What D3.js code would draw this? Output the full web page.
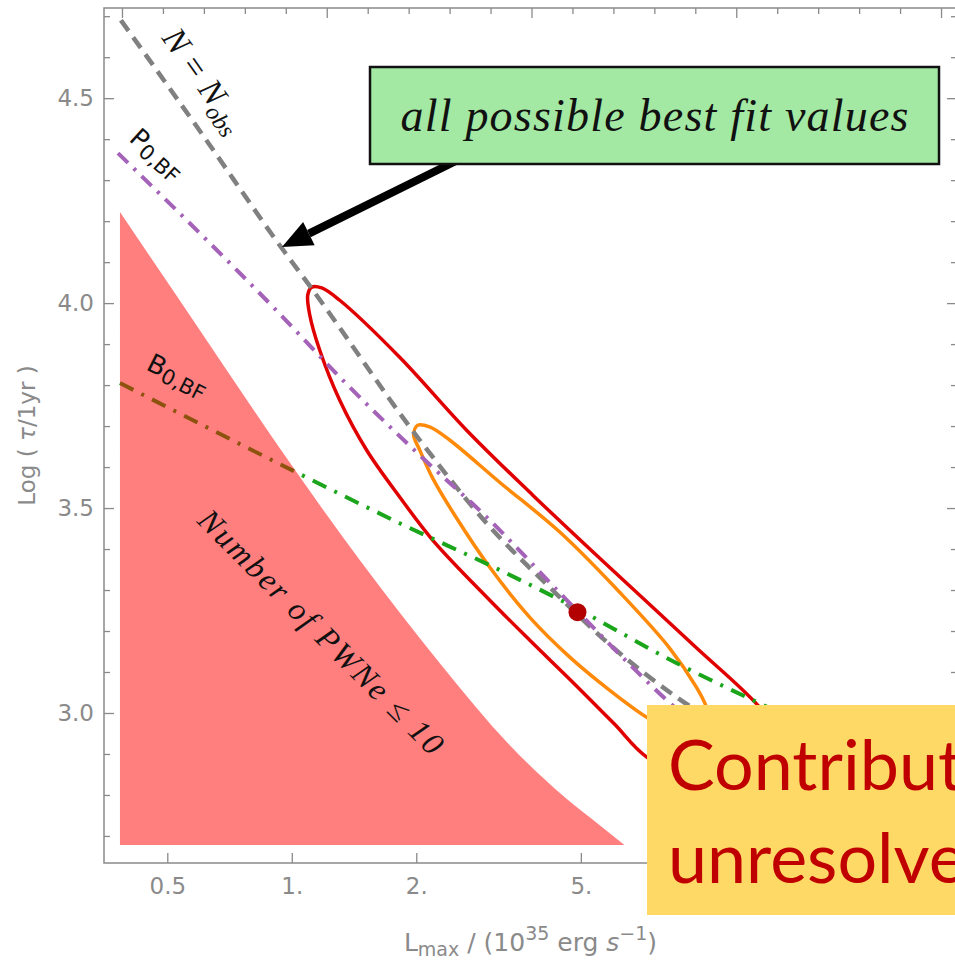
<!DOCTYPE html>
<html>
<head>
<meta charset="utf-8">
<script src="https://cdn.jsdelivr.net/npm/d3@7"></script>
<style>
  html, body { margin: 0; padding: 0; background: #fff; overflow: hidden; }
  svg { display: block; }
</style>
</head>
<body>
<svg id="chart" width="955" height="962"></svg>
<script>
// ---- axis ranges and ticks ----
const xDomain = [0.3515, 40.6];          // L_max in 1e35 erg/s (log axis)
const yDomain = [2.634, 4.72];           // log10(tau / 1 yr)
const xTickValues = [0.5, 1, 2, 5];
const xTickLabels = ["0.5", "1.", "2.", "5."];
const yMajorTicks = [3.0, 3.5, 4.0, 4.5];
const yTickLabels = ["3.0", "3.5", "4.0", "4.5"];
const yMinorTicks = [2.7, 2.8, 2.9, 3.1, 3.2, 3.3, 3.4, 3.6, 3.7, 3.8, 3.9, 4.1, 4.2, 4.3, 4.4, 4.6, 4.7];
const topMajorTicks = [0, 1, 2, 3, 4];
const topMinorTicks = [0.2, 0.4, 0.6, 0.8, 1.2, 1.4, 1.6, 1.8, 2.2, 2.4, 2.6, 2.8, 3.2, 3.4, 3.6, 3.8];

// ---- region where the number of PWNe <= 10 ----
const pwneL   = [0.38418, 0.59948, 0.93543, 1.4597, 2.2777, 3.3618, 4.5645, 5.5464, 6.3725];
const pwneTau = [4.222, 3.934, 3.646, 3.373, 3.122, 2.922, 2.795, 2.727, 2.678];
const pwneFloor = 2.678;

// ---- N = N_obs curve ----
const nobsL   = [0.38633, 0.59948, 0.96182, 1.1053, 2.0380, 2.9581, 4.1996, 5.9613, 8.5104, 12.082];
const nobsTau = [4.690, 4.420, 4.124, 4.042, 3.666, 3.463, 3.307, 3.161, 3.039, 2.942];

// ---- P0 fixed at best fit ----
const p0L   = [0.37996, 0.95117, 1.3280, 2.0722, 2.9581, 4.6155, 6.6626, 8.0503, 10.225];
const p0Tau = [4.366, 3.966, 3.812, 3.622, 3.478, 3.276, 3.112, 3.032, 2.946];

// ---- B0 fixed at best fit ----
const b0L   = [0.38418, 1.0455, 1.8234, 3.1800, 4.6155, 8.5104, 13.502, 21.069];
const b0Tau = [3.805, 3.583, 3.463, 3.349, 3.268, 3.122, 3.024, 2.934];

// ---- confidence contours (closed) ----
const outerL   = [1.0931, 1.1177, 1.1816, 1.3060, 1.8234, 2.6467, 3.8206, 5.5464, 7.0444, 9.5117, 13.502,
                  16.867, 17.832, 15.091, 10.811,
                  7.2028, 6.0281, 4.8258, 3.7576, 2.9581, 2.1908, 1.8234, 1.5176, 1.3060, 1.1685, 1.1053];
const outerTau = [4.020, 4.039, 4.037, 4.007, 3.868, 3.690, 3.532, 3.378, 3.281, 3.159, 3.015,
                  2.885, 2.788, 2.751, 2.800,
                  2.893, 2.973, 3.071, 3.178, 3.283, 3.422, 3.527, 3.641, 3.763, 3.885, 3.971];
const innerL   = [1.9710, 2.0155, 2.1544, 2.4078, 3.1800, 4.4397, 6.1983, 8.1856, 9.5117, 10.056,
                  10.339, 9.4066, 8.1856,
                  7.2028, 5.8628, 4.6935, 3.7576, 3.0079, 2.4759, 2.1908, 2.0380];
const innerTau = [3.678, 3.702, 3.698, 3.666, 3.563, 3.442, 3.295, 3.159, 3.063, 3.015,
                  2.963, 2.939, 2.959,
                  2.990, 3.056, 3.137, 3.234, 3.356, 3.483, 3.573, 3.642];

// ---- best-fit point ----
const bestL = 4.907;
const bestTau = 3.246;

const zip = (a, b) => a.map((v, i) => [v, b[i]]);

const svg = d3.select("#chart");
const m = { left: 104, top: 8, right: 957, bottom: 863 };
const x = d3.scaleLog().domain(xDomain).range([m.left, m.right]);
const y = d3.scaleLinear().domain(yDomain).range([m.bottom, m.top]);
const topScale = d3.scaleLinear().domain([-0.0878, 4.078]).range([m.left, m.right]);

svg.append("defs").append("clipPath").attr("id", "plotClip")
  .append("rect").attr("x", m.left).attr("y", m.top)
  .attr("width", m.right - m.left).attr("height", m.bottom - m.top);

const plot = svg.append("g").attr("clip-path", "url(#plotClip)");

const line = d3.line().x(d => x(d[0])).y(d => y(d[1])).curve(d3.curveMonotoneX);
const closed = d3.line().x(d => x(d[0])).y(d => y(d[1])).curve(d3.curveCatmullRomClosed.alpha(0.5));

// contours
plot.append("path").attr("d", closed(zip(outerL, outerTau)))
  .attr("fill", "none").attr("stroke", "#e00000").attr("stroke-width", 3.5);
plot.append("path").attr("d", closed(zip(innerL, innerTau)))
  .attr("fill", "none").attr("stroke", "#ff8a0a").attr("stroke-width", 3.5);

// fixed-parameter curves
plot.append("path").attr("d", line(zip(nobsL, nobsTau)))
  .attr("fill", "none").attr("stroke", "#808080").attr("stroke-width", 4.5)
  .attr("stroke-dasharray", "13,8");
plot.append("path").attr("d", line(zip(p0L, p0Tau)))
  .attr("fill", "none").attr("stroke", "#a462b8").attr("stroke-width", 4)
  .attr("stroke-dasharray", "14,8,3,8");
plot.append("path").attr("d", line(zip(b0L, b0Tau)))
  .attr("fill", "none").attr("stroke", "#1aa51a").attr("stroke-width", 4)
  .attr("stroke-dasharray", "15,9,3,9");

// excluded region, translucent red over the curves below it
const area = d3.area().x(d => x(d[0])).y0(y(pwneFloor)).y1(d => y(d[1])).curve(d3.curveMonotoneX);
plot.append("path").attr("d", area(zip(pwneL, pwneTau)))
  .attr("fill", "rgb(255,0,0)").attr("fill-opacity", 0.5);

// best fit
plot.append("circle").attr("cx", x(bestL)).attr("cy", y(bestTau)).attr("r", 9)
  .attr("fill", "#b30000");

// ---- curve labels ----
const mathFont = "'Liberation Serif', 'DejaVu Serif', serif";
const sansFont = "'DejaVu Sans', 'Liberation Sans', sans-serif";

const nobsLabel = svg.append("text")
  .attr("transform", "translate(161,38) rotate(55)")
  .attr("font-family", mathFont).attr("font-style", "italic")
  .attr("font-size", 34).attr("fill", "#111");
nobsLabel.append("tspan").text("N = N");
nobsLabel.append("tspan").attr("font-size", 24).attr("dy", 7).text("obs");

const p0Label = svg.append("text")
  .attr("transform", "translate(128,140) rotate(42)")
  .attr("font-family", sansFont).attr("font-size", 26).attr("fill", "#111");
p0Label.append("tspan").text("P");
p0Label.append("tspan").attr("font-size", 21).attr("dy", 4).text("0,BF");

const b0Label = svg.append("text")
  .attr("transform", "translate(145,369) rotate(27)")
  .attr("font-family", sansFont).attr("font-size", 26).attr("fill", "#111");
b0Label.append("tspan").text("B");
b0Label.append("tspan").attr("font-size", 21).attr("dy", 4).text("0,BF");

svg.append("text")
  .attr("transform", "translate(196,522) rotate(45)")
  .attr("font-family", mathFont).attr("font-style", "italic")
  .attr("font-size", 32).attr("fill", "#111")
  .attr("textLength", 332).attr("lengthAdjust", "spacing")
  .text("Number of PWNe ≤ 10");

// ---- frame and ticks ----
const axisColor = "#8a8a8a";
function styleAxis(g) {
  g.select(".domain").remove();
  g.selectAll(".tick line").attr("stroke", axisColor).attr("stroke-width", 1.3);
  g.selectAll(".tick text").attr("fill", axisColor)
    .attr("font-family", sansFont).attr("font-size", 23);
}

svg.append("rect").attr("x", m.left).attr("y", m.top)
  .attr("width", m.right - m.left).attr("height", m.bottom - m.top)
  .attr("fill", "none").attr("stroke", axisColor).attr("stroke-width", 1.5);

svg.append("g").attr("transform", `translate(0,${m.bottom})`)
  .call(d3.axisBottom(x).tickValues(xTickValues).tickFormat((d, i) => xTickLabels[i])
    .tickSizeInner(-10).tickSizeOuter(0).tickPadding(15))
  .call(styleAxis);

svg.append("g").attr("transform", `translate(${m.left},0)`)
  .call(d3.axisLeft(y).tickValues(yMajorTicks).tickFormat((d, i) => yTickLabels[i])
    .tickSizeInner(-10).tickSizeOuter(0).tickPadding(10))
  .call(styleAxis);
svg.append("g").attr("transform", `translate(${m.left},0)`)
  .call(d3.axisLeft(y).tickValues(yMinorTicks).tickFormat("").tickSizeInner(-6).tickSizeOuter(0))
  .call(styleAxis);

svg.append("g").attr("transform", `translate(${m.right},0)`)
  .call(d3.axisRight(y).tickValues(yMajorTicks).tickFormat("").tickSizeInner(-10).tickSizeOuter(0))
  .call(styleAxis);
svg.append("g").attr("transform", `translate(${m.right},0)`)
  .call(d3.axisRight(y).tickValues(yMinorTicks).tickFormat("").tickSizeInner(-6).tickSizeOuter(0))
  .call(styleAxis);

svg.append("g").attr("transform", `translate(0,${m.top})`)
  .call(d3.axisTop(topScale).tickValues(topMajorTicks).tickFormat("").tickSizeInner(-10).tickSizeOuter(0))
  .call(styleAxis);
svg.append("g").attr("transform", `translate(0,${m.top})`)
  .call(d3.axisTop(topScale).tickValues(topMinorTicks).tickFormat("").tickSizeInner(-6).tickSizeOuter(0))
  .call(styleAxis);

// axis titles
const yTitle = svg.append("text")
  .attr("transform", `translate(35,${(m.top + m.bottom) / 2}) rotate(-90)`)
  .attr("text-anchor", "middle").attr("font-family", sansFont)
  .attr("font-size", 23).attr("fill", axisColor);
yTitle.append("tspan").text("Log ( ");
yTitle.append("tspan").attr("font-style", "italic").text("τ");
yTitle.append("tspan").text("/1yr )");

const xTitle = svg.append("text")
  .attr("x", (m.left + m.right) / 2).attr("y", 951)
  .attr("text-anchor", "middle").attr("font-family", sansFont)
  .attr("font-size", 25).attr("fill", axisColor);
xTitle.append("tspan").text("L");
xTitle.append("tspan").attr("font-size", 19).attr("dy", 5).text("max");
xTitle.append("tspan").attr("dy", -5).text(" / (10");
xTitle.append("tspan").attr("font-size", 19).attr("dy", -11).text("35");
xTitle.append("tspan").attr("dy", 11).text(" erg ");
xTitle.append("tspan").attr("font-style", "italic").text("s");
xTitle.append("tspan").attr("font-size", 19).attr("dy", -11).text("−1");
xTitle.append("tspan").attr("dy", 11).text(")");

// ---- callout: arrow and box ----
const tip = [282, 247], tail = [462, 158];
const dx = tail[0] - tip[0], dy = tail[1] - tip[1];
const len = Math.hypot(dx, dy);
const ux = dx / len, uy = dy / len, px = -uy, py = ux;
const headLen = 30, headHalf = 13;
const base = [tip[0] + ux * headLen, tip[1] + uy * headLen];
svg.append("line")
  .attr("x1", base[0]).attr("y1", base[1]).attr("x2", tail[0]).attr("y2", tail[1])
  .attr("stroke", "#000").attr("stroke-width", 8);
svg.append("path")
  .attr("d", `M${tip[0]},${tip[1]}L${base[0] + px * headHalf},${base[1] + py * headHalf}L${base[0] - px * headHalf},${base[1] - py * headHalf}Z`)
  .attr("fill", "#000");

svg.append("rect").attr("x", 370).attr("y", 67).attr("width", 569).attr("height", 97)
  .attr("fill", "#a3e8a3").attr("stroke", "#111").attr("stroke-width", 2.5);
svg.append("text").attr("x", 654.5).attr("y", 131).attr("text-anchor", "middle")
  .attr("font-family", mathFont).attr("font-style", "italic").attr("font-size", 46)
  .attr("fill", "#111").attr("textLength", 508).attr("lengthAdjust", "spacing")
  .text("all possible best fit values");

// ---- overlay box ----
svg.append("rect").attr("x", 647).attr("y", 705).attr("width", 330).attr("height", 210)
  .attr("fill", "#ffd966");
svg.append("text").attr("x", 668).attr("y", 790)
  .attr("font-family", "Lato, 'Open Sans', sans-serif").attr("font-size", 70)
  .attr("fill", "#c00000").text("Contribution");
svg.append("text").attr("x", 668).attr("y", 883)
  .attr("font-family", "Lato, 'Open Sans', sans-serif").attr("font-size", 70)
  .attr("fill", "#c00000").text("unresolved");
</script>
</body>
</html>
